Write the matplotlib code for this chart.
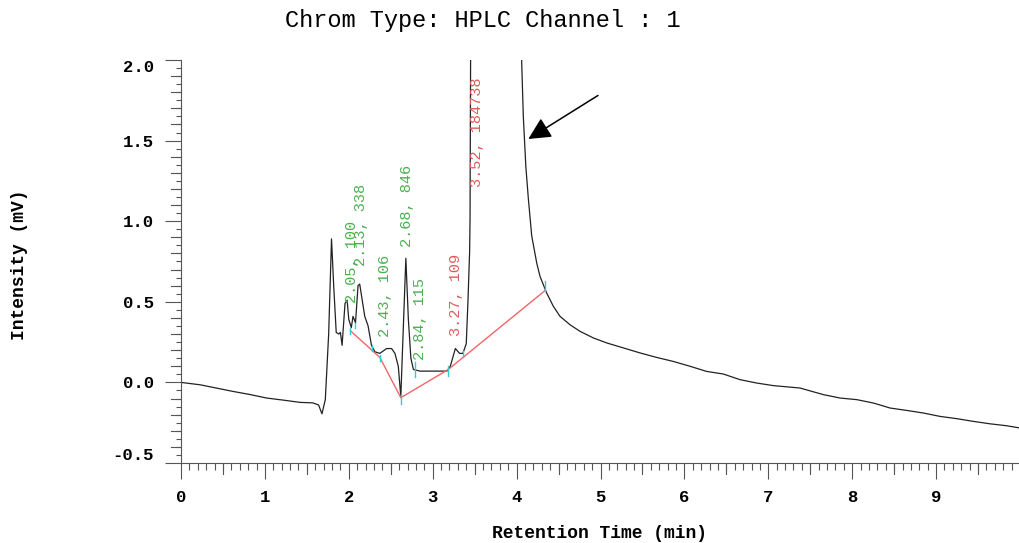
import numpy as np
import matplotlib
matplotlib.use("Agg")
import matplotlib.pyplot as plt
from matplotlib.ticker import MultipleLocator
import matplotlib.transforms as mtransforms

# chromatogram trace (retention time in min, intensity in mV)
time = [0.0, 0.23, 0.42, 0.62, 0.82, 1.02, 1.22, 1.42, 1.57, 1.64, 1.68, 1.72, 1.76,
        1.794, 1.82, 1.85, 1.88, 1.90, 1.92, 1.955, 1.98, 2.00, 2.03, 2.05, 2.08,
        2.11, 2.13, 2.16, 2.19, 2.23, 2.27, 2.31, 2.37, 2.45, 2.51, 2.55, 2.59,
        2.62, 2.64, 2.68, 2.71, 2.74, 2.77, 2.85, 3.01, 3.17, 3.21, 3.27, 3.32,
        3.36, 3.40, 3.42, 3.44, 3.445, 3.455, 3.52, 3.8, 4.0, 4.06, 4.08, 4.11,
        4.14, 4.18, 4.24, 4.279, 4.358, 4.438, 4.517, 4.636, 4.755, 4.914, 5.073,
        5.272, 5.470, 5.669, 5.868, 6.067, 6.266, 6.464, 6.663, 6.862, 7.061,
        7.379, 7.657, 7.856, 8.055, 8.253, 8.452, 8.651, 8.849, 9.048, 9.247,
        9.446, 9.644, 9.843, 10.0]
signal = [0.0, -0.015, -0.035, -0.056, -0.075, -0.097, -0.11, -0.124, -0.127, -0.14, -0.195, -0.107, 0.30,
          0.89, 0.60, 0.31, 0.30, 0.31, 0.23, 0.49, 0.51, 0.39, 0.34, 0.41, 0.37,
          0.60, 0.61, 0.51, 0.41, 0.35, 0.23, 0.19, 0.18, 0.21, 0.21, 0.18, 0.10,
          -0.09, 0.20, 0.77, 0.39, 0.15, 0.08, 0.07, 0.07, 0.07, 0.10, 0.21, 0.18,
          0.18, 0.24, 0.50, 0.81, 1.01, 2.5, 60.0, 8.0, 2.6, 2.0, 1.65, 1.34,
          1.14, 0.91, 0.74, 0.658, 0.555, 0.472, 0.41, 0.358, 0.317, 0.276, 0.245,
          0.214, 0.183, 0.155, 0.130, 0.10, 0.068, 0.052, 0.017, -0.004, -0.02,
          -0.035, -0.076, -0.097, -0.107, -0.128, -0.159, -0.174, -0.19, -0.211, -0.225,
          -0.242, -0.257, -0.269, -0.283]

# integration baseline
base_t = [2.02, 2.37, 2.62, 3.185, 4.34]
base_y = [0.32, 0.155, -0.095, 0.08, 0.57]

# peak start/end markers
mark_t = [2.018, 2.07, 2.28, 2.37, 2.62, 2.79, 3.185, 3.365, 4.34]
mark_y = [0.32, 0.355, 0.215, 0.15, -0.105, 0.08, 0.07, 0.175, 0.60]
mark_h = [0.02, 0.015, 0.02, 0.02, 0.03, 0.045, 0.03, 0.02, 0.03]

# peak labels: retention time, area
peak_rt = ["2.05", "2.13", "2.43", "2.68", "2.84", "3.27", "3.52"]
peak_area = ["100", "338", "106", "846", "115", "109", "184738"]
label_x = [2.035, 2.14, 2.43, 2.69, 2.85, 3.28, 3.53]
label_y = [0.495, 0.72, 0.28, 0.84, 0.14, 0.285, 1.21]
label_col = ["#4caf50"] * 5 + ["#e05a5a"] * 2

mono = "Liberation Mono"

fig = plt.figure(figsize=(10.2, 5.43), dpi=100)
ax = fig.add_axes([181 / 1020, 80 / 543, 839 / 1020, 403 / 543])

ax.plot(time, signal, color="#222222", lw=0.9)
ax.plot(base_t, base_y, color="#f26666", lw=1.0)
for t, y, h in zip(mark_t, mark_y, mark_h):
    ax.plot([t, t], [y - h, y + h], color="#33cccc", lw=1.0)

for rt, area, x, y, c in zip(peak_rt, peak_area, label_x, label_y, label_col):
    ax.text(x, y, rt + ", " + area, rotation=90, ha="center", va="bottom",
            color=c, fontsize=11, family=mono)

ax.annotate("", xy=(4.14, 1.51), xytext=(4.97, 1.78),
            arrowprops=dict(arrowstyle="-|>", color="black", lw=1.1,
                            mutation_scale=34, shrinkA=0, shrinkB=0))

ax.set_xlim(0, 10)
ax.set_ylim(-0.5, 2.0)
for s in ["top", "right"]:
    ax.spines[s].set_visible(False)
ax.spines["left"].set_color("#555555")
ax.spines["bottom"].set_color("#555555")

ax.xaxis.set_major_locator(MultipleLocator(1))
ax.xaxis.set_minor_locator(MultipleLocator(0.1))
ax.yaxis.set_major_locator(MultipleLocator(0.5))
ax.yaxis.set_minor_locator(MultipleLocator(0.05))
ax.tick_params(axis="x", which="major", length=11.5, width=0.8, pad=8, color="#555555")
ax.tick_params(axis="x", which="minor", length=4.8, width=0.8, color="#555555")
ax.tick_params(axis="y", which="major", length=11.5, width=0.8, pad=8, color="#555555")
ax.tick_params(axis="y", which="minor", length=3.6, width=0.8, color="#555555")
ax.set_xticks(range(0, 10))
ax.set_xticklabels([str(i) for i in range(0, 10)])
ax.set_yticks([-0.5, 0.0, 0.5, 1.0, 1.5, 2.0])
ax.set_yticklabels(["-0.5", "0.0", "0.5", "1.0", "1.5", "2.0"])
for lab in ax.get_xticklabels() + ax.get_yticklabels():
    lab.set_family(mono)
    lab.set_fontweight("bold")
    lab.set_fontsize(12.4)
ylabs = ax.get_yticklabels()
ylabs[0].set_va("bottom")
ylabs[-1].set_va("top")

# longer ticks at half minutes and at every 0.1 mV
tx = mtransforms.blended_transform_factory(ax.transData, ax.transAxes)
for t in np.arange(0.5, 10, 1.0):
    ax.plot([t, t], [0, -11 / 403], transform=tx, color="#555555", lw=0.8, clip_on=False)
ty = mtransforms.blended_transform_factory(ax.transAxes, ax.transData)
for v in np.arange(-0.4, 2.0, 0.1):
    if abs(v * 2 - round(v * 2)) > 1e-6:
        ax.plot([0, -10 / 839], [v, v], transform=ty, color="#555555", lw=0.8, clip_on=False)

fig.text(483 / 1020, 1 - 20 / 543, "Chrom Type: HPLC Channel : 1", ha="center", va="center",
         family=mono, fontsize=17)
fig.text(600 / 1020, 1 - 533 / 543, "Retention Time (min)", ha="center", va="center",
         family=mono, fontsize=13, fontweight="bold")
fig.text(20 / 1020, 1 - 265 / 543, "Intensity (mV)", ha="center", va="center", rotation=90,
         family=mono, fontsize=13, fontweight="bold")

fig.savefig("out.png", dpi=100)
